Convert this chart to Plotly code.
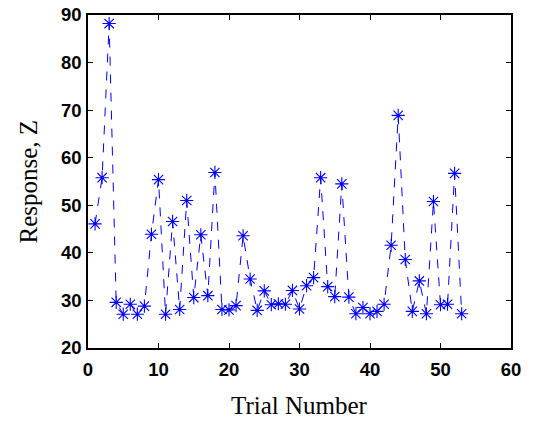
import plotly.graph_objects as go

trial = list(range(1, 54))
response = [46.1, 55.8, 88.2, 29.6, 27.1, 29.2, 27.1, 28.8, 43.9, 55.4,
            27.1, 46.6, 28.1, 51.0, 30.6, 43.8, 31.0, 56.9, 28.1, 28.0,
            28.9, 43.6, 34.5, 27.9, 32.0, 29.1, 29.3, 29.2, 32.1, 28.2,
            33.1, 34.8, 55.8, 32.9, 30.8, 54.5, 30.7, 27.2, 28.5, 27.2,
            27.7, 29.2, 41.6, 68.9, 38.6, 27.7, 34.1, 27.2, 50.8, 29.1,
            29.2, 56.7, 27.2]
x_ticks = [0, 10, 20, 30, 40, 50, 60]
y_ticks = [20, 30, 40, 50, 60, 70, 80, 90]
x_title = "Trial Number"
y_title = "Response, Z"

fig = go.Figure(go.Scatter(
    x=trial, y=response, mode="lines+markers",
    line=dict(color="#0000ff", width=1, dash="dash"),
    marker=dict(symbol="asterisk-open", size=11, color="#0000ff",
                line=dict(color="#0000ff", width=1.1)),
))

axis_common = dict(
    showline=True, linecolor="black", linewidth=1.5, mirror="ticks",
    ticks="inside", ticklen=5, tickcolor="black", tickwidth=1,
    showgrid=False, zeroline=False, automargin=False,
    tickfont=dict(family="Liberation Sans", size=18.5, color="black", weight="bold"),
)

fig.update_layout(
    width=536, height=421,
    margin=dict(l=88, r=25, t=15, b=73),
    paper_bgcolor="white", plot_bgcolor="white",
    showlegend=False,
    xaxis=dict(range=[0, 60], tickvals=x_ticks, **axis_common,
               ticklabelstandoff=4),
    yaxis=dict(range=[20, 90], tickvals=y_ticks, **axis_common,
               ticklabelstandoff=1),
    annotations=[
        dict(text=x_title, xref="paper", yref="paper", x=0.5, y=0,
             xanchor="center", yanchor="middle", yshift=-57, showarrow=False,
             borderpad=0,
             font=dict(family="Liberation Serif", size=25, color="black")),
        dict(text=y_title, xref="paper", yref="paper", x=0, y=0.5,
             xanchor="center", yanchor="middle", xshift=-60, textangle=-90,
             showarrow=False, borderpad=0,
             font=dict(family="Liberation Serif", size=25, color="black")),
    ],
)

fig.write_html("out.html")
